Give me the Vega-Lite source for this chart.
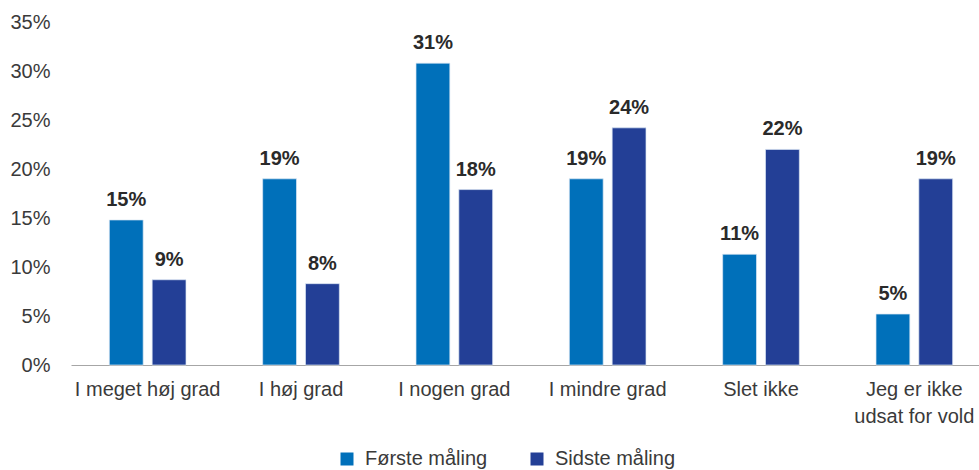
{
  "$schema": "https://vega.github.io/schema/vega-lite/v6.json",
  "width": 920,
  "height": 343,
  "padding": {"left": 71, "top": 22, "right": 0, "bottom": 105},
  "autosize": {"type": "none"},
  "background": "white",
  "config": {
    "view": {"stroke": null},
    "font": "Liberation Sans",
    "axis": {"labelFont": "Liberation Sans", "labelFontSize": 20, "labelColor": "#3a3a3a"},
    "legend": {"labelFont": "Liberation Sans", "labelFontSize": 20, "labelColor": "#3a3a3a"}
  },
  "data": {
    "values": [
      {"kategori": "I meget høj grad", "serie": "Første måling", "pct": 0.148},
      {"kategori": "I meget høj grad", "serie": "Sidste måling", "pct": 0.087},
      {"kategori": "I høj grad", "serie": "Første måling", "pct": 0.19},
      {"kategori": "I høj grad", "serie": "Sidste måling", "pct": 0.083},
      {"kategori": "I nogen grad", "serie": "Første måling", "pct": 0.308},
      {"kategori": "I nogen grad", "serie": "Sidste måling", "pct": 0.179},
      {"kategori": "I mindre grad", "serie": "Første måling", "pct": 0.19},
      {"kategori": "I mindre grad", "serie": "Sidste måling", "pct": 0.242},
      {"kategori": "Slet ikke", "serie": "Første måling", "pct": 0.113},
      {"kategori": "Slet ikke", "serie": "Sidste måling", "pct": 0.22},
      {"kategori": "Jeg er ikke|udsat for vold", "serie": "Første måling", "pct": 0.052},
      {"kategori": "Jeg er ikke|udsat for vold", "serie": "Sidste måling", "pct": 0.19}
    ]
  },
  "encoding": {
    "x": {
      "field": "kategori",
      "type": "nominal",
      "sort": null,
      "scale": {"paddingInner": 0.5, "paddingOuter": 0.25},
      "axis": {
        "title": null,
        "labelAngle": 0,
        "ticks": false,
        "domainColor": "#a6a6a6",
        "domainWidth": 1,
        "labelPadding": 14,
        "labelLineHeight": 27,
        "labelExpr": "split(datum.label, '|')"
      }
    },
    "xOffset": {
      "field": "serie",
      "type": "nominal",
      "scale": {"paddingInner": 0.21, "paddingOuter": 0}
    },
    "y": {
      "field": "pct",
      "type": "quantitative",
      "scale": {"domain": [0, 0.35], "nice": false},
      "axis": {
        "title": null,
        "values": [0, 0.05, 0.1, 0.15, 0.2, 0.25, 0.3, 0.35],
        "format": ".0%",
        "grid": false,
        "ticks": false,
        "domain": false,
        "labelPadding": 21
      }
    }
  },
  "layer": [
    {
      "mark": {"type": "bar", "stroke": "#dbe6f3", "strokeWidth": 0.7},
      "encoding": {
        "color": {
          "field": "serie",
          "type": "nominal",
          "scale": {"domain": ["Første måling", "Sidste måling"], "range": ["#0070ba", "#233f96"]},
          "legend": {
            "title": null,
            "orient": "none",
            "direction": "horizontal",
            "legendX": 266,
            "legendY": 427,
            "symbolType": "square",
            "symbolSize": 169,
            "symbolStrokeWidth": 0,
            "columnPadding": 39,
            "labelOffset": 8
          }
        }
      }
    },
    {
      "mark": {"type": "text", "baseline": "alphabetic", "dy": -14, "fontSize": 20, "fontWeight": "bold", "color": "#2a2a2a"},
      "encoding": {
        "text": {"field": "pct", "type": "quantitative", "format": ".0%"}
      }
    }
  ]
}
